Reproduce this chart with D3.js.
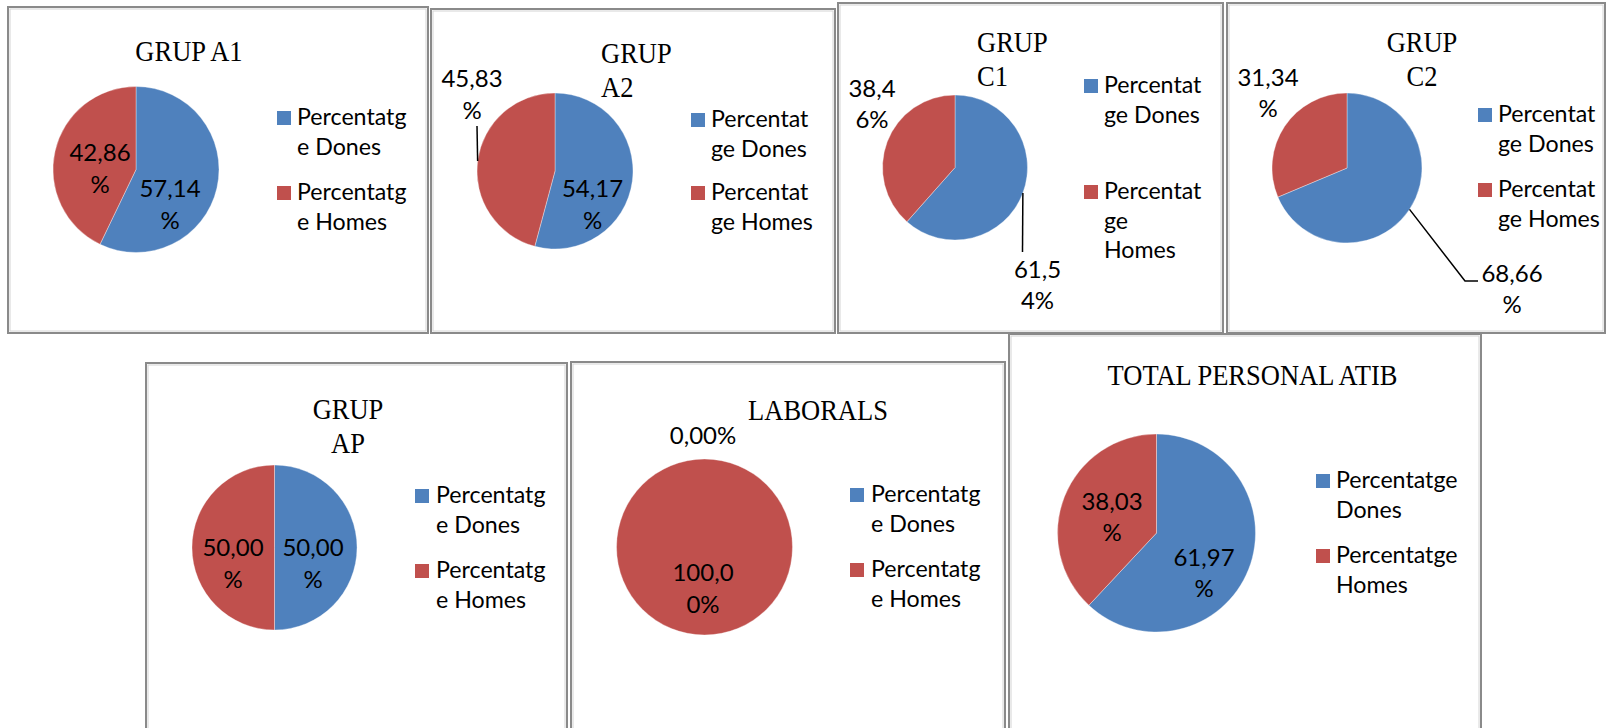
<!DOCTYPE html>
<html>
<head>
<meta charset="utf-8">
<script src="https://cdn.jsdelivr.net/npm/d3@7"></script>
<style>
    body { margin: 0; background: #fff; }
    .title { font-family: 'Liberation Serif', serif; font-size: 28.5px; fill: #000; }
    .legend text { font-family: Lato, 'Liberation Sans', sans-serif; font-size: 23.2px; fill: #000; }
    .label { font-family: Lato, 'Liberation Sans', sans-serif; font-size: 24px; fill: #000; }
</style>
</head>
<body>
<svg id="chart" width="1607" height="728"></svg>
<script>
const groups = ['GRUP A1', 'GRUP A2', 'GRUP C1', 'GRUP C2', 'GRUP AP', 'LABORALS', 'TOTAL PERSONAL ATIB'];
const seriesNames = ['Percentatge Dones', 'Percentatge Homes'];
const dones = [57.14, 54.17, 61.54, 68.66, 50.00, 0.00, 61.97];
const homes = [42.86, 45.83, 38.46, 31.34, 50.00, 100.00, 38.03];
const colors = ['#4F81BD', '#C0504D'];

// where each little chart sits on the page (box, pie centre, radius, text spots)
const layout = [
    { box: [8, 7, 428, 333], c: [136, 169.5], r: 83,
      title: { x: 189, y: 61, wrap: false, anchor: 'middle' },
      labels: [[34, 27.5, 5], [-36, -8.5, 5]], lh: 32,
      legend: { sq: 277, tx: 297, ys: [125, 200], breaks: [[10], [10]] } },
    { box: [431, 9, 835, 333], c: [555, 171], r: 78,
      title: { x: 601, y: 63, wrap: true, anchor: 'start' },
      labels: [[37.5, 26, 5], [-83, -84, 5]], lh: 32,
      leader: { slice: 1, a: 277.3, pts: [[-78, -45]] },
      legend: { sq: 691, tx: 711, ys: [127, 200], breaks: [[9], [9]] } },
    { box: [838, 3, 1223, 333], c: [955, 167.5], r: 72.5,
      title: { x: 977, y: 52, wrap: true, anchor: 'start' },
      labels: [[82.5, 110.5, 4], [-83, -70.5, 4]], lh: 31,
      leader: { slice: 0, a: 110.6, pts: [[67.5, 84.5]] },
      legend: { sq: 1084, tx: 1104, ys: [93, 199], breaks: [[9], [9, 12]] } },
    { box: [1227, 3, 1605, 333], c: [1347, 168], r: 75,
      title: { x: 1422, y: 52, wrap: true, anchor: 'middle' },
      labels: [[165, 114, 5], [-79, -82, 5]], lh: 31,
      leader: { slice: 0, a: 123.5, pts: [[118, 113], [131, 113]] },
      legend: { sq: 1478, tx: 1498, ys: [122, 197], breaks: [[9], [9]] } },
    { box: [146, 363, 567, 745], c: [274.5, 547.5], r: 82.5,
      title: { x: 348, y: 419, wrap: true, anchor: 'middle' },
      labels: [[38.5, 8.5, 5], [-41.5, 8.5, 5]], lh: 32,
      legend: { sq: 415, tx: 436, ys: [503, 578], breaks: [[10], [10]] } },
    { box: [571, 362, 1005, 745], c: [704.5, 547], r: 88,
      title: { x: 818, y: 420, wrap: false, anchor: 'middle' },
      labels: [[-1.5, -103, null], [-1.5, 34, 5]], lh: 32,
      legend: { sq: 850, tx: 871, ys: [502, 577], breaks: [[10], [10]] } },
    { box: [1009, 334, 1481, 745], c: [1156.5, 533], r: 99,
      title: { x: 1252.5, y: 385, wrap: false, anchor: 'middle' },
      labels: [[47.5, 33, 5], [-44.5, -23, 5]], lh: 31,
      legend: { sq: 1316, tx: 1336, ys: [488, 563], breaks: [[12], [12]] } }
];

const svg = d3.select('#chart');
const pie = d3.pie().sort(null).value(d => d);
const fmt = v => d3.format('.2f')(v).replace('.', ',') + '%';

function splitAt(str, idx) {
    if (idx == null) return [str];
    const cuts = [0, ...idx, str.length];
    return cuts.slice(1).map((e, i) => str.slice(cuts[i], e).trim());
}

groups.forEach((name, i) => {
    const L = layout[i];
    const [x0, y0, x1, y1] = L.box;
    const g = svg.append('g');

    // chart border (dark line with a lighter inner edge)
    g.append('rect')
        .attr('x', x0).attr('y', y0)
        .attr('width', x1 - x0).attr('height', y1 - y0)
        .attr('fill', '#fff')
        .attr('stroke', '#8a8a8a')
        .attr('stroke-width', 2);
    g.append('rect')
        .attr('x', x0 + 2).attr('y', y0 + 2)
        .attr('width', x1 - x0 - 4).attr('height', y1 - y0 - 4)
        .attr('fill', 'none')
        .attr('stroke', '#d4d4d4')
        .attr('stroke-width', 1);

    // title (a bit condensed, like Cambria)
    const tLines = L.title.wrap ? name.split(' ') : [name];
    const title = g.append('text')
        .attr('class', 'title')
        .attr('text-anchor', L.title.anchor)
        .attr('transform', `translate(${L.title.x},${L.title.y}) scale(0.93,1)`);
    tLines.forEach((t, k) => {
        title.append('tspan')
            .attr('x', 0)
            .attr('y', k * 34)
            .text(t);
    });

    // pie
    const vals = [dones[i], homes[i]];
    const arcs = pie(vals);
    const arc = d3.arc().innerRadius(0).outerRadius(L.r);
    const pg = g.append('g').attr('transform', `translate(${L.c[0]},${L.c[1]})`);

    pg.selectAll('path')
        .data(arcs)
        .enter()
        .append('path')
        .attr('d', arc)
        .attr('fill', (d, j) => colors[j])
        .attr('stroke', '#fff')
        .attr('stroke-opacity', 0.5)
        .attr('stroke-width', d => d.endAngle - d.startAngle > 0 ? 0.7 : 0);

    // leader line
    if (L.leader) {
        const a = L.leader.a * Math.PI / 180;
        const start = [L.r * Math.sin(a), -L.r * Math.cos(a)];
        pg.append('path')
            .attr('d', d3.line()([start, ...L.leader.pts]))
            .attr('fill', 'none')
            .attr('stroke', '#000')
            .attr('stroke-width', 1.5);
    }

    // data labels
    arcs.forEach((d, j) => {
        const [dx, dy, brk] = L.labels[j];
        const lines = splitAt(fmt(d.data), brk == null ? null : [brk]);
        const t = pg.append('text')
            .attr('class', 'label')
            .attr('text-anchor', 'middle');
        lines.forEach((s, k) => {
            t.append('tspan')
                .attr('x', dx)
                .attr('y', dy + k * L.lh)
                .text(s);
        });
    });

    // legend
    const lg = g.append('g').attr('class', 'legend');
    seriesNames.forEach((s, j) => {
        const by = L.legend.ys[j];
        lg.append('rect')
            .attr('x', L.legend.sq)
            .attr('y', by - 14)
            .attr('width', 14)
            .attr('height', 14)
            .attr('fill', colors[j]);
        const t = lg.append('text');
        splitAt(s, L.legend.breaks[j]).forEach((line, k) => {
            t.append('tspan')
                .attr('x', L.legend.tx)
                .attr('y', by + k * 29.7)
                .text(line);
        });
    });
});
</script>
</body>
</html>
